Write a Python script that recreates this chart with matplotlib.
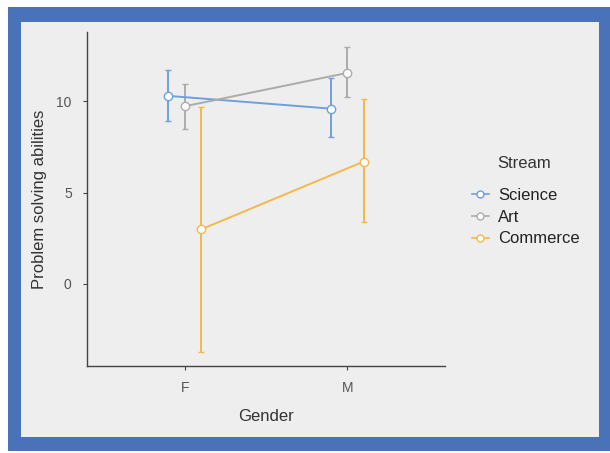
import numpy as np
import matplotlib.pyplot as plt
from matplotlib.patches import Rectangle
from matplotlib.lines import Line2D

plt.rcParams['font.family'] = ['Liberation Sans', 'DejaVu Sans']

genders = ['F', 'M']
streams = ['Science', 'Art', 'Commerce']
colors = {'Science': '#6f9fdc', 'Art': '#ababab', 'Commerce': '#f3b94a'}

means = {'Science': [10.3, 9.6], 'Art': [9.73, 11.56], 'Commerce': [2.98, 6.7]}
upper = {'Science': [11.74, 11.28], 'Art': [10.95, 13.0], 'Commerce': [9.69, 10.11]}
lower = {'Science': [8.95, 8.07], 'Art': [8.49, 10.22], 'Commerce': [-3.72, 3.38]}
dodge = {'Science': -0.1, 'Art': 0.0, 'Commerce': 0.1}

fig = plt.figure(figsize=(6.1, 4.53), dpi=100)
fig.patch.set_facecolor('white')
# blue frame and grey panel
fig.patches.append(Rectangle((8/610, 1-451/453), 602/610, 444/453, transform=fig.transFigure,
                             facecolor='#4a72b9', edgecolor='none', zorder=-2))
fig.patches.append(Rectangle((21/610, 1-437/453), 578/610, 415/453, transform=fig.transFigure,
                             facecolor='#efeeee', edgecolor='none', zorder=-1))

ax = fig.add_axes([87/610, 1-366/453, 358/610, 334/453])
ax.set_zorder(2)
ax.set_facecolor('#efeeee')

x = np.arange(1, len(genders) + 1)
handles = []
for s in streams:
    xs = x + dodge[s]
    m = np.array(means[s])
    err = [m - np.array(lower[s]), np.array(upper[s]) - m]
    ax.errorbar(xs, m, yerr=err, color=colors[s], lw=1.4, capsize=2.5, capthick=1.4,
                marker='o', ms=6, mfc='white', mec=colors[s], mew=1.0, zorder=3)
    handles.append(Line2D([], [], color=colors[s], lw=1.2, marker='o', ms=5,
                          mfc='white', mec=colors[s]))

ax.set_xlim(0.4, 2.6)
ax.set_ylim(-4.5, 13.8)
ax.set_xticks(x)
ax.set_xticklabels(genders)
ax.set_yticks([0, 5, 10])
for sp in ['top', 'right']:
    ax.spines[sp].set_visible(False)
for sp in ['left', 'bottom']:
    ax.spines[sp].set_color('#444444')
    ax.spines[sp].set_linewidth(1.0)
ax.tick_params(colors='#444444', labelsize=10, length=3, labelcolor='#555555')
ax.tick_params(axis='x', pad=8)
ax.tick_params(axis='y', pad=8)
ax.set_xlabel('Gender', fontsize=12, color='#333333', labelpad=10)
ax.set_ylabel('Problem solving abilities', fontsize=12, color='#333333', labelpad=7)

fig.text(497/610, 1-163/453, 'Stream', fontsize=12, color='#333333', va='center', ha='left')
leg = fig.legend(handles, streams, loc='upper left',
                 bbox_to_anchor=(472/610, 1-188/453), frameon=False, fontsize=12,
                 handlelength=1.0, handletextpad=0.55, labelspacing=0.4,
                 borderaxespad=0, borderpad=0)
leg.set_zorder(3)
for t in leg.get_texts():
    t.set_color('#222222')

fig.savefig('out.png', dpi=100)
